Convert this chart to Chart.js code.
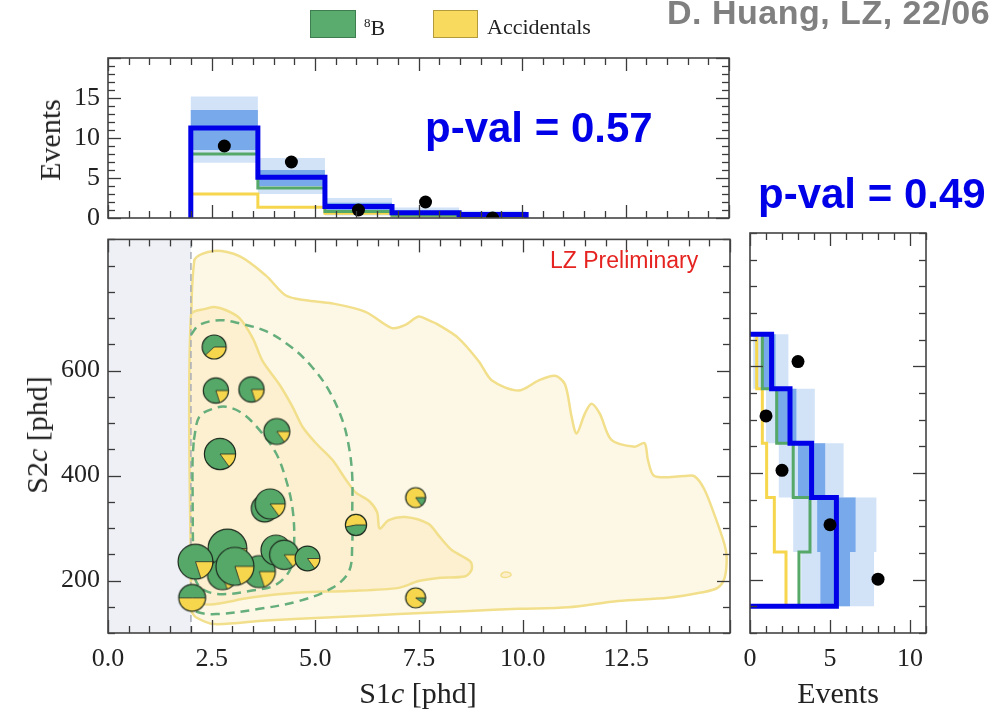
<!DOCTYPE html>
<html>
<head>
<meta charset="utf-8">
<title>8B / Accidentals in S1c-S2c</title>
<script src="https://cdn.jsdelivr.net/npm/chart.js@4.4.1/dist/chart.umd.min.js"></script>
<style>
  body { margin: 0; width: 1005px; height: 713px; position: relative; overflow: hidden; background: #fff; }
  canvas { position: absolute; }
  .txt { position: absolute; white-space: nowrap; line-height: 1; z-index: 5; }
  .serif { font-family: "Liberation Serif", "DejaVu Serif", serif; color: #222; }
  .sans { font-family: "Liberation Sans", Arial, sans-serif; }
  .box { position: absolute; z-index: 5; box-sizing: border-box; }
  .rot { transform: translate(-50%, -50%) rotate(-90deg); }
</style>
</head>
<body>
<canvas id="topHist" width="745" height="226" style="left:0;top:0"></canvas>
<canvas id="mainChart" width="745" height="487" style="left:0;top:226px"></canvas>
<canvas id="rightHist" width="265" height="487" style="left:740px;top:226px"></canvas>

<!-- legend -->
<div class="box" style="left:310px;top:10px;width:46px;height:28px;background:#5aab6e;border:1px solid #3d7d4f"></div>
<div class="txt serif" style="left:364px;top:16px;font-size:22px"><sup style="font-size:13px;vertical-align:8px">8</sup>B</div>
<div class="box" style="left:433px;top:10px;width:45px;height:28px;background:#f8da5f;border:1px solid #b39a3c"></div>
<div class="txt serif" style="left:487px;top:16px;font-size:22px">Accidentals</div>

<div class="txt sans" style="left:667px;top:-5px;font-size:34px;font-weight:bold;color:#808080;letter-spacing:0.5px">D. Huang, LZ, 22/06</div>

<div class="txt sans" style="left:425px;top:107px;font-size:42px;font-weight:bold;color:#0000e8">p-val = 0.57</div>
<div class="txt sans" style="left:758px;top:173px;font-size:42px;font-weight:bold;color:#0000e8">p-val = 0.49</div>
<div class="txt sans" style="left:550px;top:249px;font-size:23px;color:#e52421">LZ Preliminary</div>

<!-- axis titles -->
<div class="txt serif rot" style="left:50px;top:140px;font-size:30px">Events</div>
<div class="txt serif rot" style="left:37px;top:435px;font-size:30px">S2<i>c</i> [phd]</div>
<div class="txt serif" style="left:418px;top:678px;font-size:30px;transform:translateX(-50%)">S1<i>c</i> [phd]</div>
<div class="txt serif" style="left:838px;top:678px;font-size:30px;transform:translateX(-50%)">Events</div>

<script>
// ---------- top histogram (S1c projection) ----------
const s1Edges = [2.0, 3.62, 5.24, 6.86, 8.48, 10.1];
const topAcc = [3.0, 1.33, 0.6, 0.3, 0.2];
const top8B = [8.0, 3.75, 0.8, 0.35, 0.25];
const topTotal = [11.25, 5.1, 1.45, 0.65, 0.45];
const top1sLo = [8.5, 4.0, 0.8, 0.3, 0.2];
const top1sHi = [13.5, 6.0, 1.9, 0.9, 0.65];
const top2sLo = [6.9, 3.0, 0.3, 0.05, 0.0];
const top2sHi = [15.2, 7.5, 2.5, 1.3, 0.9];
const topObs = [9, 7, 1, 2, 0];

// ---------- right histogram (S2c projection), bins bottom -> top ----------
const s2Edges = [150, 252, 354, 456, 558, 660];
const rightAcc = [2.25, 1.52, 1.04, 0.77, 0.42];
const right8B = [3.06, 3.75, 2.7, 1.67, 0.77];
const rightTotal = [5.4, 5.4, 3.85, 2.5, 1.35];
const right1sLo = [4.4, 4.2, 3.0, 1.6, 0.8];
const right1sHi = [6.25, 6.6, 4.7, 2.9, 1.6];
const right2sLo = [3.2, 2.7, 1.8, 1.0, 0.2];
const right2sHi = [7.75, 7.9, 5.85, 4.05, 2.4];
const rightObs = [8, 5, 2, 1, 3];

// ---------- events (pie markers): position, accidental fraction, weight ----------
const evS1 = [2.56, 2.6, 3.46, 4.07, 2.70, 3.78, 3.91, 5.98, 7.42, 7.42, 2.03, 2.88, 2.76, 2.11, 3.65, 3.06, 4.05, 4.25, 4.81];
const evS2 = [645, 562, 564, 484, 441, 337, 346, 306, 358, 167, 167, 261, 211, 236, 217, 227, 258, 249, 242];
const evAcc = [0.38, 0.2, 0.2, 0.15, 0.15, 0.15, 0.15, 0.53, 0.85, 0.9, 0.5, 0.1, 0.2, 0.2, 0.2, 0.2, 0.15, 0.15, 0.15];
const evWeight = [0.6, 0.63, 0.63, 0.65, 0.78, 0.67, 0.75, 0.53, 0.5, 0.5, 0.67, 0.97, 0.75, 0.87, 0.8, 0.95, 0.75, 0.73, 0.62];

// ---------- contours (S1c, S2c) ----------
const accOuter = [[2.0,142],[2.04,493],[2.08,809],[2.56,828],[3.17,818],[3.81,781],[4.29,743],[4.77,734],[5.41,728],[6.21,712],[6.85,681],[7.17,687],[7.49,703],[7.73,696],[7.97,687],[8.45,662],[8.94,618],[9.26,581],[9.9,562],[10.38,581],[10.78,590],[11.02,574],[11.18,512],[11.3,480],[11.5,518],[11.66,537],[11.86,518],[12.14,468],[12.7,455],[12.94,462],[13.02,430],[13.18,399],[13.9,399],[14.14,399],[14.38,374],[14.63,324],[14.87,268],[14.92,243],[14.87,205],[14.7,186],[14.3,177],[13.5,167],[12.3,161],[11.1,149],[9.9,146],[8.7,142],[7.01,136],[5.41,130],[3.81,124],[2.56,117],[2.12,130],[2.0,142]];
const accInner = [[2.0,174],[2.0,706],[2.37,718],[2.56,721],[2.85,715],[3.17,700],[3.49,662],[3.73,618],[4.13,574],[4.45,531],[4.69,493],[5.01,462],[5.41,430],[5.73,393],[5.97,368],[6.29,352],[6.49,330],[6.55,299],[6.77,315],[7.17,321],[7.73,308],[7.97,286],[8.29,258],[8.74,236],[8.77,221],[8.62,208],[7.97,205],[7.49,199],[7.01,186],[5.81,180],[4.61,177],[3.41,167],[2.56,155],[2.12,158],[2.0,174]];
const accBlob = [[9.47,211],[9.55,216],[9.68,215],[9.72,210],[9.62,206],[9.5,207],[9.47,211]];
const b8Outer = [[2.0,668],[2.2,687],[2.69,696],[3.17,690],[3.81,675],[4.45,643],[4.93,606],[5.33,562],[5.65,506],[5.81,455],[5.89,399],[5.89,330],[5.89,268],[5.81,217],[5.41,186],[4.61,161],[3.65,146],[2.61,136],[2.12,141],[2.0,155]];
const b8Inner = [[2.07,468],[2.2,512],[2.52,527],[2.85,531],[3.25,518],[3.65,487],[4.05,443],[4.29,393],[4.45,337],[4.49,274],[4.41,224],[4.05,192],[3.41,180],[2.77,174],[2.37,180],[2.12,199],[2.06,243],[2.04,368],[2.04,430],[2.07,468]];
const s1Threshold = 2.0;

const GREEN = '#55a868', YELLOW = '#f6d64c', BLUE = '#0000e8';
const BAND1 = '#78a9ea', BAND2 = '#d2e3f8';

Chart.defaults.font.family = '"Liberation Serif", "DejaVu Serif", serif';
Chart.defaults.font.size = 26;
Chart.defaults.color = '#222';
Chart.defaults.animation = false;

// inward ticks on all four sides + frame
const frameTicks = {
  id: 'frameTicks',
  afterDatasetsDraw(chart, args, opts) {
    const { ctx, chartArea: a, scales } = chart;
    ctx.save();
    ctx.strokeStyle = '#3a3a3a';
    ctx.lineWidth = 1.3;
    const seg = (x1, y1, x2, y2) => { ctx.beginPath(); ctx.moveTo(x1, y1); ctx.lineTo(x2, y2); ctx.stroke(); };
    const vals = (scale, c) => {
      const out = [];
      const k0 = Math.ceil(scale.min / c.step - 1e-9), k1 = Math.floor(scale.max / c.step + 1e-9);
      for (let k = k0; k <= k1; k++) {
        const v = k * c.step;
        const r = v / c.major;
        const major = Math.abs(r - Math.round(r)) < 1e-6 && (c.majorMax === undefined || v <= c.majorMax);
        out.push([v, major ? 13 : 7]);
      }
      return out;
    };
    vals(scales.x, opts.x).forEach(([v, len]) => {
      const px = Math.round(scales.x.getPixelForValue(v)) + 0.5;
      seg(px, a.bottom, px, a.bottom - len);
      seg(px, a.top, px, a.top + len);
    });
    vals(scales.y, opts.y).forEach(([v, len]) => {
      const py = Math.round(scales.y.getPixelForValue(v)) + 0.5;
      seg(a.left, py, a.left + len, py);
      seg(a.right, py, a.right - len, py);
    });
    ctx.lineWidth = 1.6;
    ctx.strokeStyle = '#444';
    ctx.strokeRect(a.left, a.top, a.right - a.left, a.bottom - a.top);
    ctx.restore();
  }
};

function fixAxis(size, horizontal) {
  return function (scale) {
    if (horizontal) scale.height = size; else scale.width = size;
    scale.paddingTop = 0; scale.paddingBottom = 0;
    scale.paddingLeft = 0; scale.paddingRight = 0;
  };
}

const toXY = pts => pts.map(p => ({ x: p[0], y: p[1] }));

// step outline of a histogram, closed to zero at both ends
function stepOutline(edges, v) {
  const pts = [[edges[0], 0]];
  v.forEach((val, i) => { pts.push([edges[i], val], [edges[i + 1], val]); });
  pts.push([edges[edges.length - 1], 0]);
  return pts;
}
function bandOutline(edges, lo, hi) {
  const pts = [];
  hi.forEach((val, i) => { pts.push([edges[i], val], [edges[i + 1], val]); });
  for (let i = lo.length - 1; i >= 0; i--) pts.push([edges[i + 1], lo[i]], [edges[i], lo[i]]);
  pts.push([edges[0], hi[0]]);
  return pts;
}
const swap = pts => pts.map(p => [p[1], p[0]]);
const centers = edges => edges.slice(0, -1).map((e, i) => (e + edges[i + 1]) / 2);

function lineSet(pts, o) {
  return Object.assign({
    data: toXY(pts), pointRadius: 0, borderWidth: 0, tension: 0, fill: false,
    borderColor: 'transparent', backgroundColor: 'transparent'
  }, o);
}

function histSets(edges, acc, b8, total, lo1, hi1, lo2, hi2, obs, vertical) {
  const f = vertical ? swap : (p => p);
  const obsPts = centers(edges).map((c, i) => vertical ? [obs[i], c] : [c, obs[i]]);
  return [
    lineSet(f(bandOutline(edges, lo2, hi2)), { fill: 'shape', backgroundColor: BAND2, order: 10 }),
    lineSet(f(bandOutline(edges, lo1, hi1)), { fill: 'shape', backgroundColor: BAND1, order: 9 }),
    lineSet(f(stepOutline(edges, acc)), { borderColor: YELLOW, borderWidth: 3, order: 6 }),
    lineSet(f(stepOutline(edges, b8)), { borderColor: GREEN, borderWidth: 3, order: 5 }),
    lineSet(f(stepOutline(edges, total)), { borderColor: BLUE, borderWidth: 5, order: 4, borderJoinStyle: 'miter' }),
    { data: toXY(obsPts), showLine: false, pointRadius: 6.5, pointBackgroundColor: '#000', pointBorderWidth: 0, order: 1 }
  ];
}

const baseOpts = {
  responsive: false,
  events: [],
  plugins: { legend: { display: false }, tooltip: { enabled: false } }
};

// ---------- top histogram ----------
new Chart(document.getElementById('topHist'), {
  type: 'line',
  data: { datasets: histSets(s1Edges, topAcc, top8B, topTotal, top1sLo, top1sHi, top2sLo, top2sHi, topObs, false) },
  options: Object.assign({}, baseOpts, {
    layout: { padding: { top: 58, right: 16, left: 0, bottom: 0 } },
    plugins: Object.assign({}, baseOpts.plugins, {
      frameTicks: { x: { step: 0.5, major: 2.5 }, y: { step: 1, major: 5 } }
    }),
    scales: {
      x: { type: 'linear', min: 0, max: 15, grid: { display: false, drawTicks: false }, border: { display: false },
           ticks: { display: false }, afterFit: fixAxis(8, true) },
      y: { min: 0, max: 20, grid: { display: false, drawTicks: false }, border: { display: false },
           ticks: { stepSize: 5, padding: 8, includeBounds: false, callback: v => v > 17 ? '' : String(v) },
           afterFit: fixAxis(108, false) }
    }
  }),
  plugins: [frameTicks]
});

// ---------- main S1c-S2c panel ----------
// pie marker: the larger share is drawn first, counter-clockwise from 3 o'clock
function pieMarker(fracAcc, r) {
  const c = document.createElement('canvas');
  const s = Math.ceil(2 * r + 4);
  c.width = s; c.height = s;
  const g = c.getContext('2d');
  const cx = s / 2, cy = s / 2;
  const accFirst = fracAcc > 0.5;
  const first = accFirst ? fracAcc : 1 - fracAcc;
  const split = -2 * Math.PI * first;
  g.fillStyle = accFirst ? YELLOW : GREEN;
  g.beginPath(); g.moveTo(cx, cy); g.arc(cx, cy, r, 0, split, true); g.closePath(); g.fill();
  g.fillStyle = accFirst ? GREEN : YELLOW;
  g.beginPath(); g.moveTo(cx, cy); g.arc(cx, cy, r, split, -2 * Math.PI, true); g.closePath(); g.fill();
  g.strokeStyle = '#1e2a1e'; g.lineWidth = 0.8;
  if (fracAcc > 0 && fracAcc < 1) {
    g.beginPath(); g.moveTo(cx + r, cy); g.lineTo(cx, cy);
    g.lineTo(cx + r * Math.cos(split), cy + r * Math.sin(split)); g.stroke();
  }
  g.lineWidth = 1.2;
  g.beginPath(); g.arc(cx, cy, r, 0, 2 * Math.PI); g.stroke();
  return c;
}
const pieStyles = evAcc.map((f, i) => pieMarker(f, 20 * evWeight[i]));

new Chart(document.getElementById('mainChart'), {
  type: 'line',
  data: {
    datasets: [
      { data: evS1.map((x, i) => ({ x: x, y: evS2[i] })), showLine: false,
        pointStyle: pieStyles, pointRadius: evWeight.map(w => 20 * w), order: 0 },
      lineSet(b8Inner, { borderColor: '#66af7c', borderWidth: 2.5, borderDash: [9, 6], tension: 0.35, order: 1 }),
      lineSet(b8Outer, { borderColor: '#66af7c', borderWidth: 2.5, borderDash: [9, 6], tension: 0.35, order: 2 }),
      lineSet([[s1Threshold, 100], [s1Threshold, 850]], { borderColor: '#a8adb6', borderWidth: 1.5, borderDash: [7, 4], order: 3 }),
      lineSet(accBlob, { fill: 'shape', backgroundColor: '#fcefc9', borderColor: '#f2df8c', borderWidth: 1.5, tension: 0.4, order: 4 }),
      lineSet(accInner, { fill: 'shape', backgroundColor: '#fcf0d0', borderColor: '#f2df8c', borderWidth: 2.5, tension: 0.3, order: 5 }),
      lineSet(accOuter, { fill: 'shape', backgroundColor: '#fdf8e6', borderColor: '#f2df8c', borderWidth: 2.5, tension: 0.3, order: 6 }),
      lineSet([[0, 100], [s1Threshold, 100], [s1Threshold, 850], [0, 850], [0, 100]], { fill: 'shape', backgroundColor: '#eef0f5', order: 7 })
    ]
  },
  options: Object.assign({}, baseOpts, {
    layout: { padding: { top: 7, right: 15, left: 0, bottom: 0 } },
    plugins: Object.assign({}, baseOpts.plugins, {
      frameTicks: { x: { step: 0.5, major: 2.5 }, y: { step: 50, major: 200, majorMax: 600 } }
    }),
    scales: {
      x: { type: 'linear', min: 0, max: 15, grid: { display: false, drawTicks: false }, border: { display: false },
           ticks: { stepSize: 2.5, padding: 11, includeBounds: false, maxRotation: 0,
                    callback: v => v > 14 ? '' : v.toFixed(1) },
           afterFit: fixAxis(80, true) },
      y: { min: 100, max: 850, grid: { display: false, drawTicks: false }, border: { display: false },
           ticks: { stepSize: 200, padding: 8, includeBounds: false, callback: v => v > 700 ? '' : String(v) },
           afterFit: fixAxis(108, false) }
    }
  }),
  plugins: [frameTicks]
});

// ---------- right histogram ----------
new Chart(document.getElementById('rightHist'), {
  type: 'line',
  data: { datasets: histSets(s2Edges, rightAcc, right8B, rightTotal, right1sLo, right1sHi, right2sLo, right2sHi, rightObs, true) },
  options: Object.assign({}, baseOpts, {
    layout: { padding: { top: 7, right: 79, left: 0, bottom: 0 } },
    plugins: Object.assign({}, baseOpts.plugins, {
      frameTicks: { x: { step: 1, major: 5 }, y: { step: 50, major: 200, majorMax: 600 } }
    }),
    scales: {
      x: { type: 'linear', min: 0, max: 11, grid: { display: false, drawTicks: false }, border: { display: false },
           ticks: { stepSize: 5, padding: 11, includeBounds: false, maxRotation: 0 },
           afterFit: fixAxis(80, true) },
      y: { min: 100, max: 850, grid: { display: false, drawTicks: false }, border: { display: false },
           ticks: { display: false }, afterFit: fixAxis(10, false) }
    }
  }),
  plugins: [frameTicks]
});
</script>
</body>
</html>
